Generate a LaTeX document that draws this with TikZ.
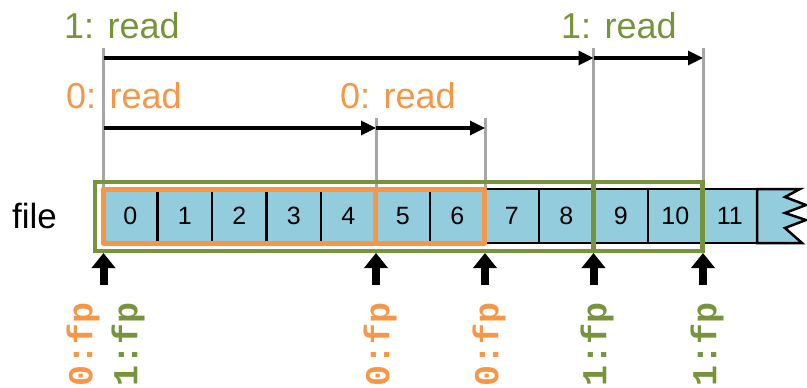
\documentclass[tikz,border=0pt]{standalone}
\usepackage{fontspec}
\setmainfont{Liberation Sans}
\newfontfamily\fpfont{Liberation Mono}
\usetikzlibrary{arrows.meta,calc}
\definecolor{ogreen}{HTML}{77933C}
\definecolor{oorange}{HTML}{F79646}
\definecolor{cellblue}{HTML}{93CDDD}
\definecolor{lgray}{HTML}{A6A6A6}
\tikzset{
  cell/.style={draw=black, line width=2.5pt, fill=cellblue, minimum width=54.5pt,
    minimum height=54pt, inner sep=0pt, outer sep=0pt, font=\fontsize{25}{30}\selectfont},
  obox/.style={draw=oorange, line width=5pt, line join=round},
  gbox/.style={draw=ogreen, line width=4.5pt},
  grayline/.style={draw=lgray, line width=3pt},
  readarrow/.style={draw=black, line width=3.3pt, -{Triangle[length=15pt,width=14pt]}},
  uparrow/.style={draw=black, line width=8pt, -{Triangle[length=15pt,width=23pt]}},
  readlabel/.style={inner sep=0pt, anchor=base west, font=\fontsize{36}{40}\selectfont},
  fplabel/.style={inner sep=0pt, rotate=90, anchor=east, font=\fpfont\bfseries\fontsize{35}{40}\selectfont}
}
\begin{document}
\begin{tikzpicture}[x=1pt,y=-1pt]
\useasboundingbox (0,0) rectangle (807,388);
% gray guide lines
\foreach \n/\xx/\tp in {a/103.5/48, b/376/118, c/485/118, d/593.5/48, e/703/48} {
  \coordinate (\n top) at (\xx,\tp);
  \coordinate (\n bot) at (\xx,189);
  \coordinate (\n up1) at (\xx,285);
  \coordinate (\n up2) at (\xx,253);
  \draw[grayline] (\n top) -- (\n bot);
}
\coordinate (a1) at (103.5,58);
\coordinate (d1) at (593.5,58);
\coordinate (e1) at (703,58);
\coordinate (a0) at (103.5,128);
\coordinate (b0) at (376,128);
\coordinate (c0r) at (485,128);
% read arrows
\draw[readarrow] (a1) -- (d1);
\draw[readarrow] (d1) -- (e1);
\draw[readarrow] (a0) -- (b0);
\draw[readarrow] (b0) -- (c0r);
% read labels
\node[readlabel, text=ogreen] (r1a) at (64,38) {1: read};
\node[readlabel, text=ogreen] (r1b) at (561,38) {1: read};
\node[readlabel, text=oorange] (r0a) at (66,108) {0: read};
\node[readlabel, text=oorange] (r0b) at (340,108) {0: read};
% file label
\node[inner sep=0pt, anchor=base west, font=\fontsize{35}{40}\selectfont] (file) at (12,228) {file};
% cells
\foreach \k in {0,...,11} {
  \node[cell] (c\k) at ({103+54.5*\k+27.25},216) {\k};
}
\draw[draw=black, line width=2.5pt, fill=cellblue, line join=miter]
  (c11.north east) -- (800,189) -- (785,197) -- (806,205) -- (785,213) -- (806,220)
  -- (785,228) -- (802,243) -- (c11.south east) -- cycle;
% orange boxes
\draw[obox] (c0.north west) rectangle (c4.south east);
\draw[obox] (c5.north west) rectangle (c6.south east);
% green boxes
\draw[gbox] ($(c0.north west)+(-8,-7)$) rectangle ($(c8.south east)+(0,8)$);
\draw[gbox] ($(c9.north west)+(0,-7)$) rectangle ($(c10.south east)+(0,8)$);
% up arrows
\foreach \n in {a,b,c,d,e} {
  \draw[uparrow] (\n up1) -- (\n up2);
}
% fp labels
\node[fplabel, text=oorange] (fp0a) at (83,302) {0:fp};
\node[fplabel, text=ogreen] (fp1a) at (128,302) {1:fp};
\node[fplabel, text=oorange] (fp0b) at (380,302) {0:fp};
\node[fplabel, text=oorange] (fp0c) at (489,302) {0:fp};
\node[fplabel, text=ogreen] (fp1b) at (597,302) {1:fp};
\node[fplabel, text=ogreen] (fp1c) at (707,302) {1:fp};
\end{tikzpicture}
\end{document}
